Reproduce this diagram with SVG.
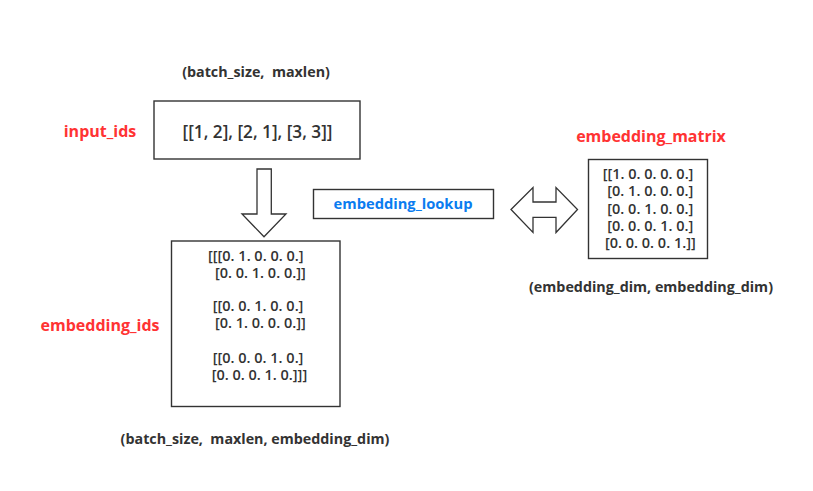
<svg xmlns="http://www.w3.org/2000/svg" width="813" height="491" viewBox="0 0 813 491">
<style>
.box{fill:#fff;stroke:#333;stroke-width:1.4}
.arr{fill:#fff;stroke:#333;stroke-width:1.3;stroke-linejoin:miter}
.lbl{font-family:"Open Sans","Noto Sans",sans-serif;font-weight:bold;font-size:16px;fill:#ff3333}
.dim{font-family:"Open Sans","Noto Sans",sans-serif;font-weight:bold;font-size:14.3px;fill:#333}
.val{font-family:"Open Sans","Noto Sans",sans-serif;font-weight:600;font-size:14.5px;fill:#333;white-space:pre}
</style>
<rect width="813" height="491" fill="#fff"/>
<g id="input_ids">
<text class="dim" x="256" y="77" text-anchor="middle" xml:space="preserve">(batch_size,  maxlen)</text>
<text class="lbl" x="100" y="137" text-anchor="middle">input_ids</text>
<rect class="box" x="154" y="101" width="206" height="58"/>
<text class="val" x="257.5" y="137.5" text-anchor="middle" style="font-size:17.2px">[[1, 2], [2, 1], [3, 3]]</text>
</g>
<g id="embedding_lookup">
<rect class="box" x="313.5" y="189.5" width="180" height="29"/>
<text x="403" y="209" text-anchor="middle" font-family="Open Sans, Noto Sans, sans-serif" font-weight="bold" font-size="14.7" fill="#0a7cf0">embedding_lookup</text>
</g>
<g id="embedding_matrix">
<text class="lbl" x="651" y="142" text-anchor="middle">embedding_matrix</text>
<rect class="box" x="588.5" y="159.5" width="119" height="99"/>
<text class="val" xml:space="preserve"><tspan x="602.7" y="179">[[1. 0. 0. 0. 0.]</tspan><tspan x="607.3" y="196">[0. 1. 0. 0. 0.]</tspan><tspan x="607.3" y="213.5">[0. 0. 1. 0. 0.]</tspan><tspan x="607.3" y="230.5">[0. 0. 0. 1. 0.]</tspan><tspan x="605" y="248">[0. 0. 0. 0. 1.]]</tspan></text>
<text class="dim" x="651" y="292" text-anchor="middle">(embedding_dim, embedding_dim)</text>
</g>
<g id="embedding_ids">
<text class="lbl" x="100" y="331" text-anchor="middle">embedding_ids</text>
<rect class="box" x="171.5" y="241" width="168.5" height="165.5"/>
<text class="val" xml:space="preserve"><tspan x="208" y="261">[[[0. 1. 0. 0. 0.]</tspan><tspan x="215" y="278">[0. 0. 1. 0. 0.]]</tspan><tspan x="212.7" y="311">[[0. 0. 1. 0. 0.]</tspan><tspan x="215" y="328">[0. 1. 0. 0. 0.]]</tspan><tspan x="212.7" y="363">[[0. 0. 0. 1. 0.]</tspan><tspan x="211.7" y="380">[0. 0. 0. 1. 0.]]]</tspan></text>
<text class="dim" x="255" y="444" text-anchor="middle" xml:space="preserve">(batch_size,  maxlen, embedding_dim)</text>
</g>
<g id="connectors">
<polygon class="arr" points="257,169 271.3,169 271.3,214 286,214 264,236.7 242,214 257,214"/>
<polygon class="arr" points="511,209.5 533,187.5 533,202 556,202 556,187.5 577.5,209.5 556,232.5 556,217.3 533,217.3 533,232.5"/>
</g>
</svg>
